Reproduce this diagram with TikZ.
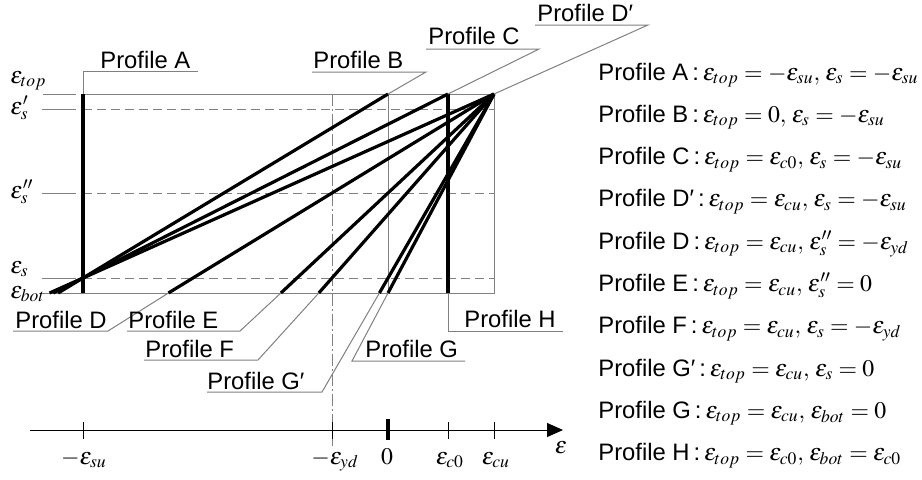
\documentclass[tikz,border=0pt]{standalone}
\usepackage{mathptmx}
\usepackage[no-math]{fontspec}
\setmainfont{Liberation Sans}
\usepackage{tikz}
\usetikzlibrary{arrows.meta,calc}

\begin{document}
\begin{tikzpicture}[x=0.5pt, y=-0.5pt,
  thinline/.style={gray, line width=0.5pt},
  dashline/.style={gray, line width=0.5pt, dash pattern=on 4.5pt off 2.5pt},
  dashdot/.style={gray, line width=0.5pt, dash pattern=on 6pt off 1.5pt on 1pt off 1.5pt},
  profile/.style={line width=1.6pt},
  leader/.style={gray, line width=0.5pt},
  lab/.style={font=\fontsize{11.9pt}{14pt}\selectfont, inner sep=0pt, anchor=base west},
  ticklab/.style={font=\fontsize{11.9pt}{14pt}\selectfont, inner sep=0pt, anchor=base}]
  \useasboundingbox (0,0) rectangle (922,479);

  % strain levels over the depth
  \draw[thinline] (43,94) -- (76,94) (83,94) -- (494,94) -- (494,293) -- (43,293);
  \draw[thinline] (42,109) -- (76,109) (42,193) -- (76,193) (42,278) -- (76,278);
  \draw[dashline] (83,109) -- (494,109) (83,193) -- (494,193) (83,278) -- (494,278);
  \draw[thinline] (388,94) -- (388,293);
  \draw[dashdot] (332,94) -- (332,446);

  \node[lab] (etop) at (10,83) {$\varepsilon_{top}$};
  \node[lab] (es1) at (10,114) {$\varepsilon'_s$};
  \node[lab] (es2) at (10,198) {$\varepsilon''_s$};
  \node[lab] (es) at (10,273) {$\varepsilon_s$};
  \node[lab] (ebot) at (10,298) {$\varepsilon_{bot}$};

  % profile end points
  \coordinate (Atop) at (83,94);    \coordinate (Abot) at (83,293);
  \coordinate (Btop) at (388,94);   \coordinate (Bbot) at (58.1,293);
  \coordinate (Ctop) at (448,94);   \coordinate (Cbot) at (53.2,293);
  \coordinate (Dtop) at (494,94);   \coordinate (Dpbot) at (49.5,293);
  \coordinate (Dbot) at (168.4,293); \coordinate (Ebot) at (280.9,293);
  \coordinate (Fbot) at (318.8,293); \coordinate (Gpbot) at (379.4,293);
  \coordinate (Gbot) at (388,293);  \coordinate (Hbot) at (448,293);

  \draw[profile] (Atop) -- (Abot);
  \draw[profile] (Btop) -- (Bbot);
  \draw[profile] (Ctop) -- (Cbot);
  \draw[profile] (Dtop) -- (Dpbot);
  \draw[profile] (Dtop) -- (Dbot);
  \draw[profile] (Dtop) -- (Ebot);
  \draw[profile] (Dtop) -- (Fbot);
  \draw[profile] (Dtop) -- (Gpbot);
  \draw[profile] (Dtop) -- (Gbot);
  \draw[profile] (Ctop) -- (Hbot);

  % profile labels
  \coordinate (uA) at (83,71);   \coordinate (vA) at (198,71);
  \coordinate (uB) at (426,72);  \coordinate (vB) at (312,72);
  \coordinate (uC) at (539,49);  \coordinate (vC) at (426,49);
  \coordinate (uDp) at (648,25); \coordinate (vDp) at (535,25);
  \coordinate (uD) at (108,331); \coordinate (vD) at (13,331);
  \coordinate (uE) at (240,331); \coordinate (vE) at (127,331);
  \coordinate (uF) at (258,360); \coordinate (vF) at (144,360);
  \coordinate (uGp) at (322,392); \coordinate (vGp) at (207,392);
  \coordinate (uG) at (352,361); \coordinate (vG) at (465,361);
  \coordinate (uH) at (448,331); \coordinate (vH) at (563,331);

  \draw[leader] (Atop) -- (uA) -- (vA);
  \draw[leader] (Btop) -- (uB) -- (vB);
  \draw[leader] (Ctop) -- (uC) -- (vC);
  \draw[leader] (Dtop) -- (uDp) -- (vDp);
  \draw[leader] (Dbot) -- (uD) -- (vD);
  \draw[leader] (Ebot) -- (uE) -- (vE);
  \draw[leader] (Fbot) -- (uF) -- (vF);
  \draw[leader] (Gpbot) -- (uGp) -- (vGp);
  \draw[leader] (Gbot) -- (uG) -- (vG);
  \draw[leader] (Hbot) -- (uH) -- (vH);

  \node[lab] (labA) at (100,68) {Profile A};
  \node[lab] (labB) at (313,68) {Profile B};
  \node[lab] (labC) at (428,44) {Profile C};
  \node[lab] (labDp) at (537,21) {Profile D′};
  \node[lab] (labD) at (15,328) {Profile D};
  \node[lab] (labE) at (128,328) {Profile E};
  \node[lab] (labF) at (145,357) {Profile F};
  \node[lab] (labGp) at (207,389) {Profile G′};
  \node[lab] (labG) at (365,357) {Profile G};
  \node[lab] (labH) at (464,327) {Profile H};

  % strain axis
  \draw[line width=0.5pt, -{Triangle[length=8pt,width=7pt]}] (30,430) -- (563,430);
  \foreach \x in {83,332,448,494}
    \draw[line width=0.5pt] (\x,422) -- (\x,439);
  \draw[line width=1.6pt] (388,419) -- (388,440);
  \node[ticklab] (tsu) at (84,464) {$-\varepsilon_{su}$};
  \node[ticklab] (tyd) at (335,464) {$-\varepsilon_{yd}$};
  \node[ticklab] (tzero) at (387,464) {$0$};
  \node[ticklab] (tc0) at (450,464) {$\varepsilon_{c0}$};
  \node[ticklab] (tcu) at (496,464) {$\varepsilon_{cu}$};
  \node[ticklab] (teps) at (561,453) {$\varepsilon$};

  % list of profiles
  \node[lab] (eqA) at (598,80) {Profile A\,:\,$\varepsilon_{top}=-\varepsilon_{su},\,\varepsilon_s=-\varepsilon_{su}$};
  \node[lab] (eqB) at (598,122.3) {Profile B\,:\,$\varepsilon_{top}=0,\,\varepsilon_s=-\varepsilon_{su}$};
  \node[lab] (eqC) at (598,164.6) {Profile C\,:\,$\varepsilon_{top}=\varepsilon_{c0},\,\varepsilon_s=-\varepsilon_{su}$};
  \node[lab] (eqDp) at (598,206.9) {Profile D′\,:\,$\varepsilon_{top}=\varepsilon_{cu},\,\varepsilon_s=-\varepsilon_{su}$};
  \node[lab] (eqD) at (598,249.2) {Profile D\,:\,$\varepsilon_{top}=\varepsilon_{cu},\,\varepsilon''_s=-\varepsilon_{yd}$};
  \node[lab] (eqE) at (598,291.5) {Profile E\,:\,$\varepsilon_{top}=\varepsilon_{cu},\,\varepsilon''_s=0$};
  \node[lab] (eqF) at (598,333.8) {Profile F\,:\,$\varepsilon_{top}=\varepsilon_{cu},\,\varepsilon_s=-\varepsilon_{yd}$};
  \node[lab] (eqGp) at (598,376.1) {Profile G′\,:\,$\varepsilon_{top}=\varepsilon_{cu},\,\varepsilon_s=0$};
  \node[lab] (eqG) at (598,418.4) {Profile G\,:\,$\varepsilon_{top}=\varepsilon_{cu},\,\varepsilon_{bot}=0$};
  \node[lab] (eqH) at (598,460.7) {Profile H\,:\,$\varepsilon_{top}=\varepsilon_{c0},\,\varepsilon_{bot}=\varepsilon_{c0}$};
\end{tikzpicture}
\end{document}
